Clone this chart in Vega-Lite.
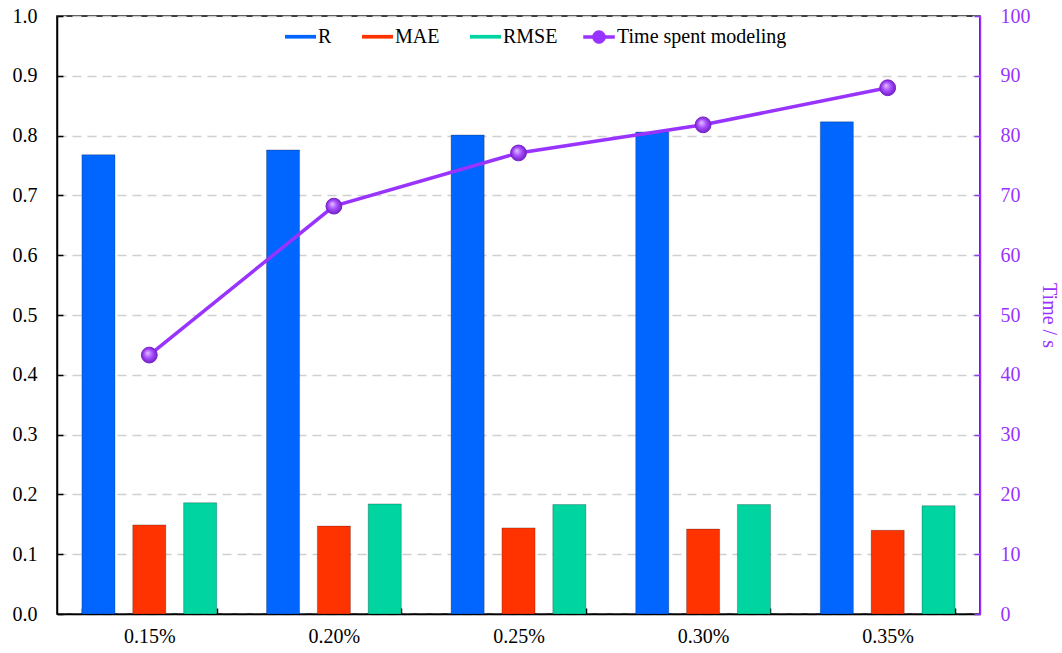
{
  "$schema": "https://vega.github.io/schema/vega-lite/v6.json",
  "width": 923,
  "height": 598,
  "autosize": {"type": "none"},
  "padding": {"left": 57, "top": 16, "right": 82, "bottom": 39},
  "background": "#ffffff",
  "config": {
    "font": "Liberation Serif",
    "view": {"stroke": "#000000", "strokeWidth": 1.5},
    "axis": {
      "labelFont": "Liberation Serif",
      "labelFontSize": 20,
      "labelColor": "#000000",
      "domainColor": "#000000",
      "domainWidth": 1.5,
      "tickColor": "#000000",
      "tickWidth": 1.5,
      "titleFont": "Liberation Serif",
      "titleFontWeight": "normal"
    },
    "legend": {
      "labelFont": "Liberation Serif",
      "labelFontSize": 20,
      "labelColor": "#000000",
      "labelLimit": 400,
      "padding": 0
    }
  },
  "datasets": {
    "scores": [
      {"rate": "0.15%", "metric": "R", "value": 0.768},
      {"rate": "0.15%", "metric": "MAE", "value": 0.149},
      {"rate": "0.15%", "metric": "RMSE", "value": 0.186},
      {"rate": "0.20%", "metric": "R", "value": 0.776},
      {"rate": "0.20%", "metric": "MAE", "value": 0.147},
      {"rate": "0.20%", "metric": "RMSE", "value": 0.184},
      {"rate": "0.25%", "metric": "R", "value": 0.801},
      {"rate": "0.25%", "metric": "MAE", "value": 0.144},
      {"rate": "0.25%", "metric": "RMSE", "value": 0.183},
      {"rate": "0.30%", "metric": "R", "value": 0.806},
      {"rate": "0.30%", "metric": "MAE", "value": 0.142},
      {"rate": "0.30%", "metric": "RMSE", "value": 0.183},
      {"rate": "0.35%", "metric": "R", "value": 0.823},
      {"rate": "0.35%", "metric": "MAE", "value": 0.140},
      {"rate": "0.35%", "metric": "RMSE", "value": 0.181}
    ],
    "timing": [
      {"rate": "0.15%", "seconds": 43.3},
      {"rate": "0.20%", "seconds": 68.2},
      {"rate": "0.25%", "seconds": 77.1},
      {"rate": "0.30%", "seconds": 81.8},
      {"rate": "0.35%", "seconds": 88.0}
    ]
  },
  "layer": [
    {
      "data": {"name": "scores"},
      "mark": {"type": "bar", "stroke": "#000000", "strokeOpacity": 0.25, "strokeWidth": 1},
      "encoding": {
        "x": {
          "field": "rate",
          "type": "nominal",
          "sort": ["0.15%", "0.20%", "0.25%", "0.30%", "0.35%"],
          "scale": {"paddingInner": 0.27, "paddingOuter": 0.135},
          "axis": {
            "title": null,
            "labelFont": "Liberation Serif",
            "labelAngle": 0,
            "labelPadding": 18,
            "tickBand": "extent",
            "tickSize": -6,
            "grid": false
          }
        },
        "xOffset": {
          "field": "metric",
          "sort": ["R", "MAE", "RMSE"],
          "scale": {"paddingInner": 0.35, "paddingOuter": 0}
        },
        "y": {
          "field": "value",
          "type": "quantitative",
          "scale": {"domain": [0, 1], "nice": false},
          "axis": {
            "title": null,
            "labelFont": "Liberation Serif",
            "values": [0, 0.1, 0.2, 0.3, 0.4, 0.5, 0.6, 0.7, 0.8, 0.9, 1.0],
            "format": ".1f",
            "tickSize": -6,
            "labelPadding": 26,
            "grid": true,
            "gridColor": "#D0D0D0",
            "gridDash": [9, 6],
            "gridWidth": 1.3
          }
        },
        "fill": {
          "field": "metric",
          "type": "nominal",
          "scale": {"domain": ["R", "MAE", "RMSE"], "range": ["#0066FF", "#FF3300", "#00D4A0"]},
          "legend": {
            "title": null,
            "orient": "none",
            "direction": "horizontal",
            "legendX": 228,
            "legendY": 5,
            "symbolType": "M-1,-0.12H1V0.12H-1Z",
            "symbolSize": 961,
            "symbolStrokeWidth": 0,
            "labelOffset": 2,
            "columnPadding": 30
          }
        }
      }
    },
    {
      "data": {"name": "timing"},
      "encoding": {
        "x": {"field": "rate", "type": "nominal", "sort": ["0.15%", "0.20%", "0.25%", "0.30%", "0.35%"]},
        "y": {
          "field": "seconds",
          "type": "quantitative",
          "scale": {"domain": [0, 100], "nice": false},
          "axis": {
            "orient": "right",
            "title": "Time / s",
            "titleFont": "Liberation Serif",
            "titleColor": "#9933FF",
            "titleFontSize": 20,
            "titleAngle": 90,
            "titleBaseline": "bottom",
            "titlePadding": 8,
            "labelFont": "Liberation Serif",
            "values": [0, 10, 20, 30, 40, 50, 60, 70, 80, 90, 100],
            "domainColor": "#9933FF",
            "tickColor": "#9933FF",
            "labelColor": "#9933FF",
            "tickSize": -6,
            "labelPadding": 26,
            "grid": false
          }
        }
      },
      "layer": [
        {
          "mark": {"type": "line", "strokeWidth": 3.5},
          "encoding": {
            "stroke": {
              "datum": "Time spent modeling",
              "scale": {"range": ["#9933FF"]},
              "legend": {
                "title": null,
                "orient": "none",
                "legendX": 526,
                "legendY": 5,
                "symbolType": "M-1,-0.1H1V0.1H-1Z M0.42,0A0.42,0.42,0,1,1,-0.42,0A0.42,0.42,0,1,1,0.42,0Z",
                "symbolSize": 961,
                "symbolFillColor": "#9933FF",
                "symbolStrokeWidth": 0.5,
                "labelOffset": 2
              }
            }
          }
        },
        {
          "mark": {
            "type": "point",
            "filled": true,
            "size": 250,
            "opacity": 1,
            "stroke": "#7A22CC",
            "strokeWidth": 1,
            "fill": {
              "gradient": "radial",
              "x1": 0.38, "y1": 0.35, "r1": 0,
              "x2": 0.5, "y2": 0.5, "r2": 0.55,
              "stops": [
                {"offset": 0, "color": "#E6C2FF"},
                {"offset": 0.5, "color": "#A64DFF"},
                {"offset": 1, "color": "#6A1BB8"}
              ]
            }
          }
        }
      ]
    }
  ],
  "resolve": {"scale": {"y": "independent"}}
}
